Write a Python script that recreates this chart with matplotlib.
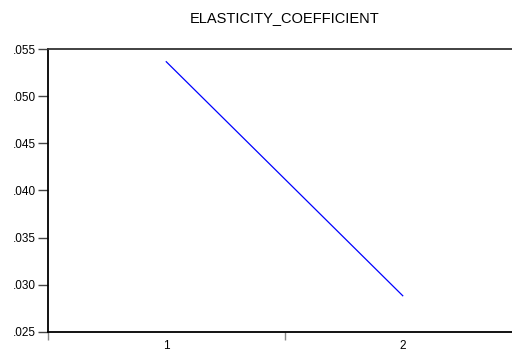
import matplotlib
matplotlib.use("Agg")
import matplotlib.pyplot as plt
from matplotlib.ticker import FixedLocator, NullFormatter

plt.rcParams['font.family'] = ['Liberation Sans', 'DejaVu Sans']

periods = [1, 2]
values = [0.05368, 0.02882]
title = "ELASTICITY_COEFFICIENT"
yticks = [0.025, 0.030, 0.035, 0.040, 0.045, 0.050, 0.055]
ytick_labels = [".025", ".030", ".035", ".040", ".045", ".050", ".055"]

fig = plt.figure(figsize=(5.12, 3.53), dpi=100)
ax = fig.add_axes([48/512, 1-331.7/353, (521-48)/512, (331.7-49.3)/353])
ax.plot(periods, values, color='#0000ff', lw=0.9)
ax.set_xlim(0.5, 2.5)
ax.set_ylim(0.025, 0.055)

ax.set_yticks(yticks)
ax.set_yticklabels(ytick_labels)
ax.set_xticks(periods)
ax.set_xticklabels([str(p) for p in periods])
ax.xaxis.set_minor_locator(FixedLocator([0.5, 1.5, 2.5]))
ax.xaxis.set_minor_formatter(NullFormatter())

ax.tick_params(axis='x', which='major', length=0, pad=6, labelsize=8.5)
ax.tick_params(axis='x', which='minor', length=6, width=1, color='#888888', direction='out')
ax.tick_params(axis='y', length=7, width=1, color='#444444', direction='out', pad=2, labelsize=8.5)

ax.spines['right'].set_visible(False)
ax.spines['top'].set_color('#333333')
ax.spines['top'].set_linewidth(1.3)
ax.spines['bottom'].set_linewidth(1.3)
ax.spines['left'].set_linewidth(1.3)
ax.spines['bottom'].set_color('black')
ax.spines['left'].set_color('black')

fig.text(284.5/512, 1-18/353, title, ha='center', va='center', fontsize=10.5)

fig.savefig("out.png", dpi=100)
